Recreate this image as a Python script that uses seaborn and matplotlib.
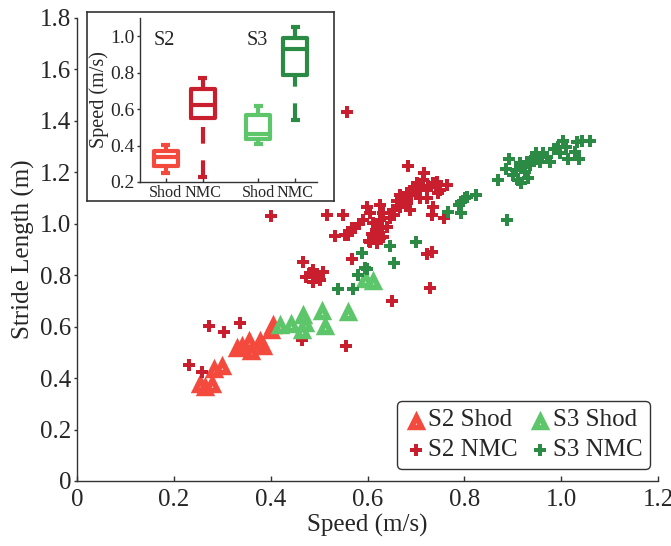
import matplotlib
matplotlib.use("Agg")
import numpy as np
import pandas as pd
import matplotlib.pyplot as plt
import seaborn as sns
from matplotlib.path import Path
from matplotlib.markers import MarkerStyle
from matplotlib.ticker import FuncFormatter

# ---------------- data ----------------
s2_shod_speed = [0.255, 0.265, 0.278, 0.282, 0.300, 0.330, 0.340, 0.355, 0.360,
                 0.378, 0.385, 0.400, 0.405]
s2_shod_stride = [0.38, 0.37, 0.38, 0.44, 0.45, 0.52, 0.53, 0.55, 0.51,
                  0.55, 0.53, 0.59, 0.61]

s3_shod_speed = [0.419, 0.443, 0.464, 0.467, 0.470, 0.507, 0.512, 0.560, 0.595, 0.612]
s3_shod_stride = [0.61, 0.615, 0.59, 0.65, 0.62, 0.665, 0.605, 0.66, 0.79, 0.78]

s2_nmc_speed = [0.231, 0.259, 0.273, 0.304, 0.337, 0.401, 0.465, 0.555, 0.557, 0.650,
                0.730, 0.733, 0.722, 0.683, 0.717,
                0.467, 0.488, 0.509, 0.474, 0.488, 0.502, 0.495, 0.481, 0.498,
                0.567, 0.516, 0.549,
                0.533, 0.559, 0.574, 0.605, 0.633, 0.619, 0.626, 0.640, 0.591, 0.612,
                0.619, 0.633, 0.646, 0.605, 0.598, 0.626, 0.653, 0.681, 0.708, 0.736,
                0.667, 0.702, 0.722, 0.736, 0.757, 0.681, 0.695, 0.715, 0.722, 0.750,
                0.708, 0.667, 0.688, 0.743, 0.764, 0.582, 0.610, 0.630, 0.660, 0.690,
                0.700, 0.725, 0.655, 0.675, 0.745, 0.604, 0.553, 0.567, 0.626, 0.733]
s2_nmc_stride = [0.451, 0.425, 0.604, 0.578, 0.613, 1.030, 0.548, 0.525, 1.434, 0.701,
                 0.749, 0.891, 0.883, 1.225, 1.199,
                 0.853, 0.820, 0.814, 0.794, 0.775, 0.781, 0.801, 0.808, 0.790,
                 0.862, 1.034, 1.034,
                 0.953, 0.957, 0.982, 0.930, 0.950, 0.924, 1.015, 0.989, 1.015, 1.002,
                 0.976, 1.041, 1.021, 1.041, 1.067, 1.073, 1.054, 1.080, 1.131, 1.157,
                 1.112, 1.157, 1.099, 1.067, 1.021, 1.119, 1.144, 1.170, 1.131, 1.131,
                 1.099, 1.067, 1.054, 1.164, 1.151, 1.000, 0.960, 0.985, 1.090, 1.110,
                 1.125, 1.145, 1.035, 1.100, 1.120, 0.934, 0.957, 0.982, 0.944, 1.034]

s3_nmc_speed = [0.540, 0.571, 0.581, 0.595, 0.588, 0.598, 0.646, 0.655, 0.700, 0.767,
                0.794, 0.801, 0.788, 0.794, 0.805, 0.825, 0.870, 0.889, 0.887, 0.892,
                0.907, 0.911, 0.918, 0.915, 0.925, 0.929, 0.932, 0.939, 0.949, 0.956,
                0.963, 0.977, 0.994, 0.998, 1.004, 1.015, 1.029, 1.032, 1.037, 1.042,
                1.060, 0.945, 0.935, 0.920, 0.960, 0.985, 1.010, 0.900, 0.950, 0.970]
s3_nmc_stride = [0.745, 0.745, 0.801, 0.827, 0.888, 0.823, 0.915, 0.846, 0.929, 1.047,
                 1.041, 1.099, 1.073, 1.086, 1.105, 1.112, 1.170, 1.015, 1.212, 1.251,
                 1.209, 1.170, 1.157, 1.235, 1.203, 1.242, 1.177, 1.255, 1.274, 1.242,
                 1.274, 1.242, 1.297, 1.274, 1.323, 1.251, 1.280, 1.319, 1.251, 1.323,
                 1.323, 1.260, 1.230, 1.220, 1.260, 1.290, 1.300, 1.190, 1.250, 1.260]

# inset box-plot summary (speed, m/s)
box_labels = ["Shod", "NMC", "Shod", "NMC"]
box_whislo = [0.250, 0.225, 0.408, 0.540]
box_q1 = [0.285, 0.550, 0.435, 0.786]
box_med = [0.338, 0.625, 0.462, 0.930]
box_q3 = [0.368, 0.709, 0.567, 0.989]
box_whishi = [0.405, 0.768, 0.618, 1.050]
group_texts = ["S2", "S3"]

# ---------------- style ----------------
C_S2_SHOD = "#F44A3E"
C_S2_NMC = "#C81E2D"
C_S3_SHOD = "#5DC56A"
C_S3_NMC = "#2B8B45"
box_colors = [C_S2_SHOD, C_S2_NMC, C_S3_SHOD, C_S3_NMC]
box_pos = [1, 2, 3.5, 4.5]
text_pos = [0.97, 3.47]

sns.set_style("ticks")
plt.rcParams["font.family"] = ["Liberation Serif", "DejaVu Serif"]
SPINE = "#333333"

# triangle marker with a tiny hole (as in the reference)
iy = -0.382
verts = [(0, 1), (-1, -1), (1, -1), (0, 1),
         (0, iy + 0.10), (0.087, iy - 0.05), (-0.087, iy - 0.05), (0, iy + 0.10)]
codes = [Path.MOVETO, Path.LINETO, Path.LINETO, Path.CLOSEPOLY] * 2
tri_marker = MarkerStyle(Path(verts, codes))

fig = plt.figure(figsize=(6.71, 5.46), dpi=100)
ax = fig.add_axes([0.11475, 0.11905, 0.8659, 0.848])

TRI_S = 196
PLUS_S = 72
sns.scatterplot(x=s2_shod_speed, y=s2_shod_stride, ax=ax, color=C_S2_SHOD,
                marker=tri_marker, s=TRI_S, linewidth=0, label="S2 Shod", zorder=2)
sns.scatterplot(x=s2_nmc_speed, y=s2_nmc_stride, ax=ax, color=C_S2_NMC,
                marker="P", s=PLUS_S, linewidth=0, label="S2 NMC", zorder=3)
sns.scatterplot(x=s3_shod_speed, y=s3_shod_stride, ax=ax, color=C_S3_SHOD,
                marker=tri_marker, s=TRI_S, linewidth=0, label="S3 Shod", zorder=4)
sns.scatterplot(x=s3_nmc_speed, y=s3_nmc_stride, ax=ax, color=C_S3_NMC,
                marker="P", s=PLUS_S, linewidth=0, label="S3 NMC", zorder=5)

ax.set_xlim(0, 1.2)
ax.set_ylim(0, 1.8)
ax.set_xticks(np.arange(0, 1.21, 0.2))
ax.set_yticks(np.arange(0, 1.81, 0.2))
fmt = FuncFormatter(lambda v, p: "0" if abs(v) < 1e-9 else f"{v:.1f}")
ax.xaxis.set_major_formatter(fmt)
ax.yaxis.set_major_formatter(fmt)
ax.tick_params(axis="x", direction="in", length=3.5, width=1, color=SPINE,
               labelsize=18, pad=6)
ax.tick_params(axis="y", direction="out", length=2.5, width=1, color=SPINE,
               labelsize=18, pad=1.5)
for side in ["top", "right"]:
    ax.spines[side].set_visible(False)
for side in ["left", "bottom"]:
    ax.spines[side].set_color(SPINE)
    ax.spines[side].set_linewidth(1)
ax.set_xlabel("Speed (m/s)", fontsize=18, labelpad=2)
ax.set_ylabel("Stride Length (m)", fontsize=18, labelpad=4)

h, l = ax.get_legend_handles_labels()
order = [l.index("S2 Shod"), l.index("S2 NMC"), l.index("S3 Shod"), l.index("S3 NMC")]
leg = ax.legend([h[i] for i in order], [l[i] for i in order], ncol=2,
                loc="lower right", bbox_to_anchor=(0.986, 0.026),
                fontsize=18, frameon=True, fancybox=True,
                edgecolor=SPINE, framealpha=1, handletextpad=0.05,
                columnspacing=0.45, borderpad=0.3, labelspacing=0.3,
                handlelength=0.9, borderaxespad=0.0)
leg.get_frame().set_linewidth(1)

# ---------------- inset ----------------
frame = fig.add_axes([0.1297, 0.6319, 0.3681, 0.3462])
frame.set_xticks([])
frame.set_yticks([])
frame.set_facecolor("white")
for s in frame.spines.values():
    s.set_color(SPINE)
    s.set_linewidth(1.2)
frame.set_zorder(5)

axi = fig.add_axes([0.2086, 0.6667, 0.2638, 0.3004])
axi.set_zorder(6)
axi.patch.set_alpha(0)

stats = []
for lab, wl, a, m, b, wh in zip(box_labels, box_whislo, box_q1, box_med, box_q3, box_whishi):
    stats.append(dict(label=lab, whislo=wl, q1=a, med=m, q3=b, whishi=wh, fliers=[]))
res = axi.bxp(stats, positions=box_pos, widths=0.65, capwidths=0.24,
              showfliers=False, patch_artist=False, manage_ticks=False)
LW = 3.0
for i, c in enumerate(box_colors):
    bx = res["boxes"][i]
    bx.set_color(c)
    bx.set_linewidth(LW)
    bx.set_solid_joinstyle("round")
    md = res["medians"][i]
    md.set_color(c)
    md.set_linewidth(LW)
    md.set_solid_capstyle("butt")
    for w in res["whiskers"][2 * i:2 * i + 2]:
        xd, yd = w.get_data()
        w.set_data(list(xd)[::-1], list(yd)[::-1])
        w.set_color(c)
        w.set_linewidth(LW)
        w.set_linestyle((0, (4, 4)))
        w.set_dash_capstyle("butt")
    for cp in res["caps"][2 * i:2 * i + 2]:
        cp.set_color(c)
        cp.set_linewidth(LW)
        cp.set_solid_capstyle("butt")

axi.set_xlim(0.3, 5.09)
axi.set_ylim(0.2, 1.1)
axi.set_xticks(box_pos)
axi.set_xticklabels(box_labels)
axi.set_yticks(np.arange(0.2, 1.01, 0.2))
axi.yaxis.set_major_formatter(FuncFormatter(lambda v, p: f"{v:.1f}"))
axi.tick_params(axis="x", direction="in", length=3, width=1, color=SPINE,
                labelsize=11.6, pad=2)
axi.tick_params(axis="y", direction="out", length=2.5, width=1, color=SPINE,
                labelsize=14, pad=1.5)
for side in ["top", "right"]:
    axi.spines[side].set_visible(False)
for side in ["left", "bottom"]:
    axi.spines[side].set_color(SPINE)
    axi.spines[side].set_linewidth(1)
axi.set_ylabel("Speed (m/s)", fontsize=14.5, labelpad=1)
for t, xp in zip(group_texts, text_pos):
    axi.text(xp, 0.975, t, fontsize=14.5, ha="center", va="center")

fig.savefig("out.png", dpi=100)
